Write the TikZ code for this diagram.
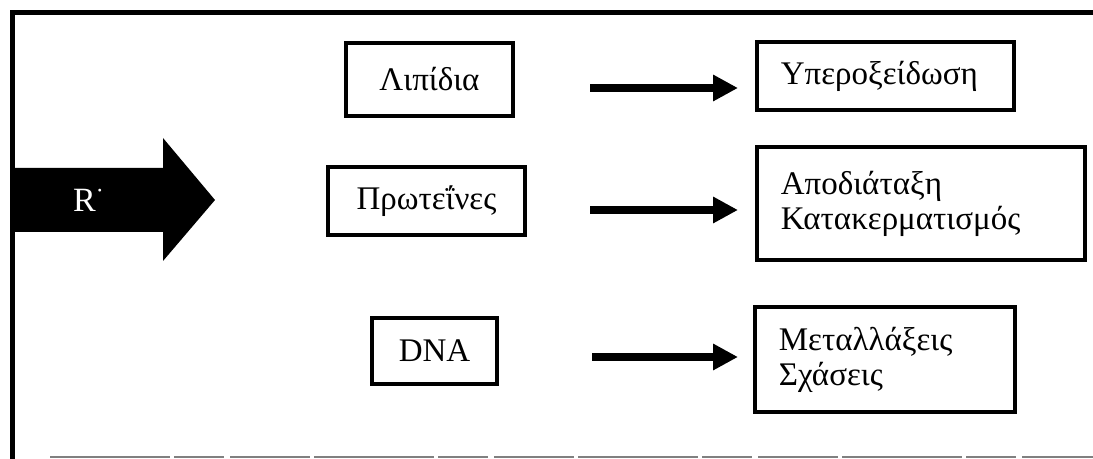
\documentclass[tikz,border=0pt]{standalone}
\usepackage{fontspec}
\setmainfont{Liberation Serif}
\usepackage{tikz}
\usetikzlibrary{arrows.meta, positioning}

\begin{document}
\begin{tikzpicture}[
        x=0.5pt, y=-0.5pt,
        leftbox/.style={rectangle, draw=black, line width=1.8pt,
                        font=\fontsize{16.5}{17.5}\selectfont,
                        align=center, inner sep=0pt},
        rightbox/.style={rectangle, draw=black, line width=1.8pt,
                         font=\fontsize{16.5}{17.5}\selectfont, anchor=west,
                         align=left, inner xsep=12pt, inner ysep=0pt},
        flow/.style={-{Triangle[length=12.5pt, width=12.5pt]},
                     line width=4pt},
        frameline/.style={line width=2.5pt, line cap=rect}
      ]
        \useasboundingbox (0,0) rectangle (1093,459);
        % Frame
        \draw[frameline] (1093,13) -- (12,13) -- (12,459);
        \draw[gray, line width=1pt,
              dash pattern=on 60pt off 2pt on 25pt off 3pt on 40pt off 2pt]
              (50,457) -- (1093,457);
        % Radical arrow
        \fill[black] (12,168) -- (163,168) -- (163,138) -- (215,200)
              -- (163,261) -- (163,232) -- (12,232) -- cycle;
        \node[font=\fontsize{17}{17.5}\selectfont, text=white] (rad)
              at (89,200) {R\textsuperscript{·}};
        % Targets (left column)
        \node[leftbox, minimum width=83.5pt, minimum height=36.5pt] (lipid)
              at (429.5, 79.5) {Λιπίδια};
        \node[leftbox, minimum width=98.5pt, minimum height=34pt] (prot)
              at (426.5, 201) {Πρωτεΐνες};
        \node[leftbox, minimum width=62.5pt, minimum height=33pt] (dna)
              at (434.5, 351) {DNA};
        % Damage (right column)
        \node[rightbox, text width=104.5pt, minimum height=34pt] (perox)
              at (755, 76) {Υπεροξείδωση};
        \node[rightbox, text width=140pt, minimum height=56.5pt] (frag)
              at (755, 203.5) {Αποδιάταξη\\Κατακερματισμός};
        \node[rightbox, text width=106pt, minimum height=52.5pt] (mut)
              at (753, 359.5) {Μεταλλάξεις\\Σχάσεις};
        % Arrow ends
        \coordinate (a1s) at (590, 88);
        \coordinate (a1e) at (738, 88);
        \coordinate (a2s) at (590, 210);
        \coordinate (a2e) at (738, 210);
        \coordinate (a3s) at (592, 357);
        \coordinate (a3e) at (738, 357);
        % Arrows
        \draw[flow] (a1s) -- (a1e);
        \draw[flow] (a2s) -- (a2e);
        \draw[flow] (a3s) -- (a3e);
      \end{tikzpicture}
\end{document}
